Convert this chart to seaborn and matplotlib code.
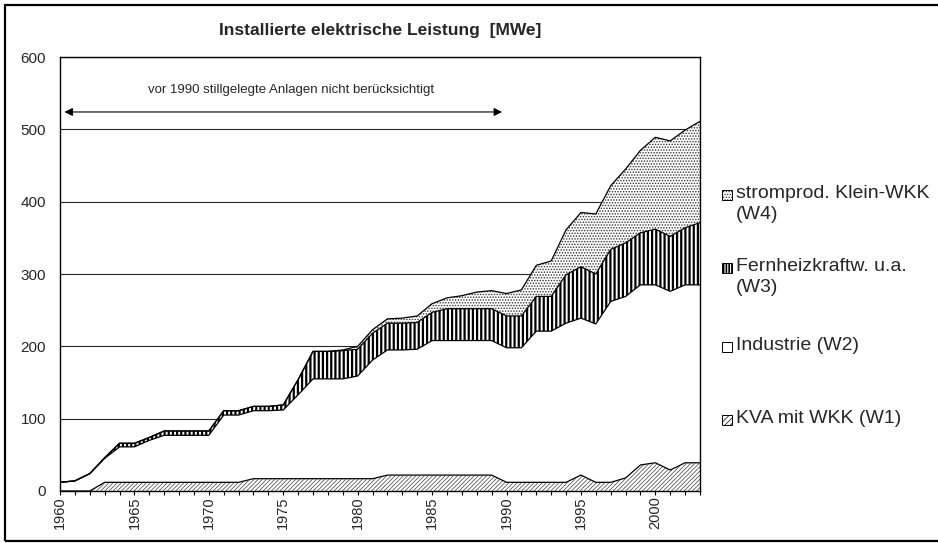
import numpy as np
import pandas as pd
import matplotlib.pyplot as plt
import seaborn as sns
from matplotlib.patches import Rectangle
from matplotlib.ticker import MultipleLocator

# Werte (MWe je Kategorie, nicht kumuliert)
jahre = list(range(1960, 2004))

kva_w1 = [0, 0, 0, 12, 12, 12, 12, 12, 12, 12,
          12, 12, 12, 17, 17, 17, 17, 17, 17, 17,
          17, 17, 22, 22, 22, 22, 22, 22, 22, 22,
          12, 12, 12, 12, 12, 22, 12, 12, 18, 36,
          39, 29, 39, 39]
industrie_w2 = [12, 14, 24, 33, 49, 49, 58, 65, 65, 65,
                65, 93, 93, 94, 94, 95, 116, 138, 138, 138,
                142, 164, 173, 173, 174, 186, 186, 186, 186, 186,
                186, 186, 209, 209, 220, 217, 219, 250, 251, 249,
                246, 247, 246, 246]
fernheiz_w3 = [0, 0, 0, 1, 5, 5, 4, 6, 6, 6,
               6, 6, 6, 6, 6, 7, 21, 38, 38, 39,
               37, 37, 37, 37, 37, 39, 44, 44, 44, 44,
               44, 44, 48, 48, 67, 71, 69, 72, 74, 72,
               77, 76, 79, 86]
klein_w4 = [0, 0, 0, 0, 0, 0, 0, 0, 0, 0,
            0, 0, 0, 0, 0, 0, 0, 0, 0, 1,
            4, 5, 6, 7, 9, 12, 15, 18, 23, 25,
            31, 36, 43, 49, 62, 75, 83, 88, 102, 114,
            127, 132, 135, 140]

labels = ['KVA mit WKK (W1)', 'Industrie (W2)',
          'Fernheizkraftw. u.a.\n(W3)', 'stromprod. Klein-WKK\n(W4)']
spalten = ['W1', 'W2', 'W3', 'W4']

df = pd.DataFrame({'Jahr': jahre, 'W1': kva_w1, 'W2': industrie_w2,
                   'W3': fernheiz_w3, 'W4': klein_w4})
kum = df[spalten].cumsum(axis=1)
kum['Jahr'] = df['Jahr']

sns.set_theme(style='white')
plt.rcParams['font.family'] = ['Liberation Sans', 'DejaVu Sans']

fig = plt.figure(figsize=(9.38, 5.43), dpi=100)
ax = fig.add_axes([60 / 938, 52 / 543, 640 / 938, 434 / 543])

# (hatch, hatch colour, hatch linewidth)
stile = [('////////', '0.25', 0.5), (None, 'white', 0.5),
         ('||||', 'black', 1.6), ('......', '0.2', 0.7)]
leg_stile = [('//////', '0.25', 0.5), (None, 'white', 0.5),
             ('||||||', 'black', 1.2), ('......', '0.3', 0.5)]

unten = np.zeros(len(jahre))
for col, (hatch, hc, hlw) in zip(spalten, stile):
    oben = kum[col].values
    with plt.rc_context({'hatch.linewidth': hlw}):
        ax.fill_between(df['Jahr'], unten, oben, facecolor='white',
                        edgecolor=hc, hatch=hatch, linewidth=0, zorder=2)
    unten = oben

for col in spalten:
    sns.lineplot(data=kum, x='Jahr', y=col, color='black', lw=0.9,
                 ax=ax, legend=False, zorder=3)

ax.set_xlim(1960, 2003)
ax.set_ylim(0, 600)
ax.set_yticks(range(0, 601, 100))
ax.set_xticks(range(1960, 2004, 5))
ax.xaxis.set_minor_locator(MultipleLocator(1))
ax.yaxis.grid(True, color='0.15', lw=0.8)
ax.set_axisbelow(True)
ax.set_xlabel('')
ax.set_ylabel('')
for s in ax.spines.values():
    s.set_color('black')
    s.set_linewidth(1.0)
ax.tick_params(axis='x', which='both', direction='inout', length=6,
               width=0.8, color='black', labelsize=10.5, pad=1,
               labelrotation=90, bottom=True)
ax.tick_params(axis='y', length=0, labelsize=11, pad=10)

ax.annotate('', xy=(1960.3, 524), xytext=(1989.7, 524),
            arrowprops=dict(arrowstyle='<|-|>', color='black', lw=0.8,
                            mutation_scale=12, shrinkA=0, shrinkB=0))
ax.text(1975.5, 555, 'vor 1990 stillgelegte Anlagen nicht berücksichtigt',
        ha='center', va='center', fontsize=9.5)

fig.text(380 / 938, 1 - 31 / 543, 'Installierte elektrische Leistung  [MWe]',
         ha='center', va='center', fontsize=12.5, weight='bold')

# Legende rechts, von oben nach unten W4 ... W1
leg_y = [195, 268, 347, 420]
for (hatch, hc, hlw), text, y in zip(leg_stile[::-1], labels[::-1], leg_y):
    with plt.rc_context({'hatch.linewidth': hlw}):
        fig.add_artist(Rectangle((722 / 938, 1 - (y + 5) / 543), 10 / 938, 10 / 543,
                                 transform=fig.transFigure, facecolor='white',
                                 edgecolor='black', hatch=hatch, lw=0.7))
    fig.text(736 / 938, 1 - (y - 10) / 543, text, ha='left', va='top',
             fontsize=14, linespacing=1.3)

fig.add_artist(Rectangle((5 / 938, 2 / 543), 960 / 938, 536 / 543,
                         transform=fig.transFigure, fill=False,
                         edgecolor='black', lw=1.6))

fig.savefig('out.png', dpi=100)
